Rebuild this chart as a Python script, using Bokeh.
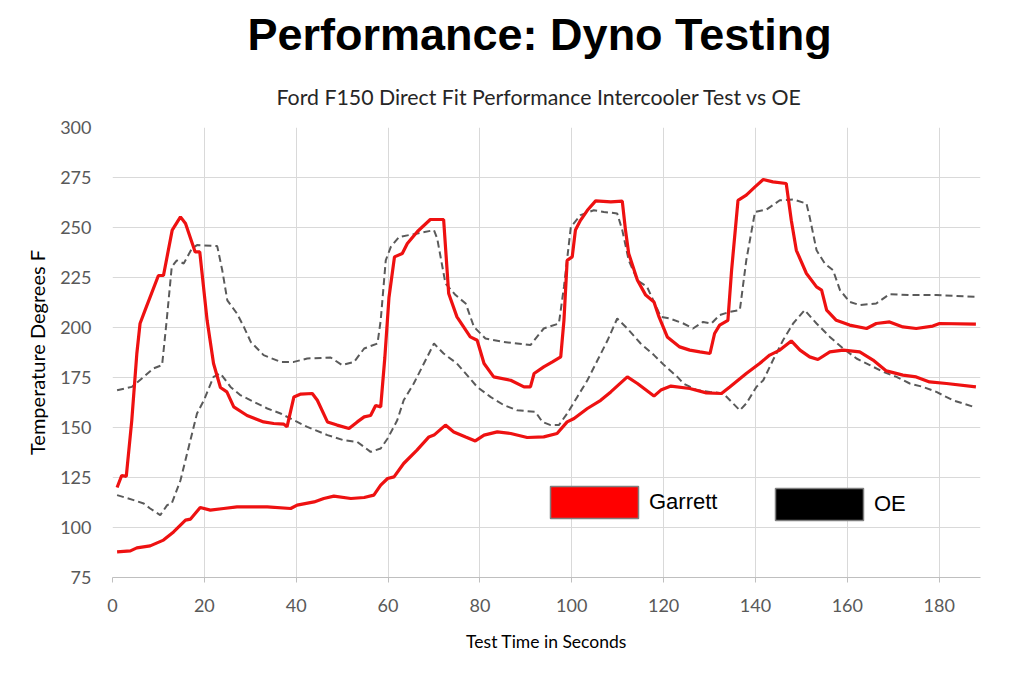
from bokeh.plotting import figure
from bokeh.models import Title, Legend, LegendItem, Range1d, FixedTicker
from bokeh.embed import file_html
from bokeh.resources import INLINE

# ---------------- data ----------------
garrett_hi_x = [1, 2, 3, 4.2, 5.3, 6, 7.1, 10, 11.1, 13, 14.8, 15.9, 18, 19, 20.6, 22, 23.5, 24.9, 26.4,
                29.3, 32.9, 35.1, 37.3, 38, 39.5, 41, 43.5, 44.6, 46.8, 48.9, 51.5, 53.3, 54.8, 56.2, 57.3,
                58.4, 59.3, 60.2, 61.4, 63.1, 64.2, 66.4, 69.2, 72.1, 73.2, 75, 77.9, 79.4, 80.9, 83, 86.7,
                89.6, 91, 91.8, 93.9, 95.8, 97.6, 98.3, 99, 100.1, 100.8, 101.9, 103.4, 105.2, 108.5, 111,
                111.7, 112.4, 114.3, 116.1, 117.9, 119, 120.8, 123.5, 125.7, 127.9, 130.1, 131.1, 132.2, 134,
                134.8, 136.2, 138, 139.9, 141.7, 143.8, 146.7, 147.8, 148.9, 151.1, 153.3, 154.4, 155.5,
                157.6, 160.5, 164.2, 166.3, 169.2, 172.1, 175, 178.6, 180.1, 188]
garrett_hi_y = [120, 126, 125.6, 153.6, 187, 202, 208.7, 226, 226, 248.7, 255.3, 252, 237.8, 237.8, 203.6,
                182, 170, 167.8, 160.3, 156, 152.8, 152, 151.7, 150.3, 165.3, 166.7, 167, 163.6, 152.8,
                151.2, 149.5, 152.8, 155.3, 156, 161, 160.3, 185, 215, 235.3, 237, 242, 248, 254, 254, 217,
                205.3, 195.3, 193.6, 182, 175.3, 173.6, 170.3, 170.3, 177, 180.3, 182.8, 185.3, 203.6,
                233.6, 235.3, 248.7, 253.6, 258.6, 263.3, 262.8, 263.2, 248.7, 237, 223.6, 216.2, 212.8,
                205.3, 195.3, 190.3, 188.7, 187.8, 187, 197, 201.2, 203.6, 228.6, 263.6, 266.2, 270.3, 274,
                272.8, 272, 253.6, 238.6, 227, 220.3, 218.7, 208.7, 203.6, 201.2, 199.5, 202, 202.8, 200.3,
                199.5, 200.7, 202, 201.7]

garrett_lo_x = [1, 3.9, 5.3, 8.2, 11.1, 13.3, 15.9, 17, 19.1, 21.3, 24.2, 27.1, 33.7, 38.8, 40.2, 43.9, 46,
                48.2, 51.9, 54.8, 56.9, 58.4, 59.9, 61.3, 63.4, 66.3, 68.9, 70, 72.5, 74.3, 76.9, 79, 80.9,
                83.8, 86.7, 90.3, 93.9, 96.8, 99, 100.5, 103.4, 106.3, 108.5, 112.1, 114.3, 117.9, 119.4,
                121.6, 125.7, 129.3, 132.6, 134.4, 138, 140.9, 143.1, 145.3, 147.8, 149.7, 151.8, 153.6,
                156.2, 159.1, 162.7, 165.6, 168.5, 172.1, 175, 177.9, 181.6, 188]
garrett_lo_y = [87.8, 88.3, 89.8, 90.8, 93.7, 97.8, 103.7, 104.2, 110, 108.7, 109.5, 110.3, 110.3, 109.5,
                111.2, 112.8, 114.5, 115.7, 114.5, 115, 116.2, 121.2, 124.5, 125.3, 132, 138.7, 145.3,
                146.2, 151.2, 147.8, 145.3, 143.3, 146.2, 147.8, 147, 145, 145.3, 147, 152.8, 154.5, 159.5,
                163.6, 167.8, 175.3, 172, 165.7, 168.7, 170.7, 169.5, 167.3, 167, 170.3, 177, 182, 186.2,
                188.7, 193.3, 188.7, 185.3, 184, 187.8, 188.7, 187.8, 183.7, 178.3, 176.2, 175.3, 172.8,
                172, 170.3]

oe_hi_x = [1, 4.2, 6.8, 8.9, 10.8, 11.8, 12.9, 14, 15.5, 17.3, 18.4, 22.8, 23.9, 25, 27.1, 28.6, 30.1,
           32.9, 36.6, 39.5, 42.4, 47.5, 50, 52.6, 54.8, 57.7, 58.4, 59.5, 60.6, 62.4, 66.4, 70, 70.7, 72.5,
           74.7, 76.9, 78.7, 81.2, 85.2, 88.1, 91, 93.9, 97.2, 98.3, 99.8, 101.9, 104.8, 107, 109.9, 111,
           112.4, 114.3, 116.4, 119.4, 121.3, 124.3, 126.4, 128.6, 130.4, 132.2, 134.4, 136.6, 138, 139.9,
           142.4, 145.3, 148.2, 151.1, 151.8, 153.3, 155.1, 156.9, 158.4, 160.5, 162.7, 166.3, 169.2,
           173.6, 179.4, 188]
oe_hi_y = [168.6, 170.3, 175.3, 179.5, 181.2, 203.6, 230.3, 233.6, 232, 239.5, 241.2, 240.7, 228.6, 213.6,
           207, 200.3, 192.8, 186.2, 182.8, 182.8, 184.5, 185, 181.2, 182.8, 189.5, 192, 203.6, 233.6,
           240.3, 245.3, 247, 248.7, 244.5, 222, 216.2, 212, 200.3, 194.5, 192.8, 192, 191.2, 199.5, 202,
           220.3, 250.3, 256.2, 258.6, 257.8, 257, 248.7, 233.6, 223.6, 220.3, 205.3, 204.5, 202, 199.5,
           202.8, 202, 206.2, 207.8, 208.7, 233.6, 257.8, 259, 263.6, 264, 262, 255.3, 238.6, 232, 228.6,
           218.7, 212.8, 211.2, 212, 216.7, 216.2, 216.2, 215.3]

oe_lo_x = [1, 4.6, 6.8, 8.2, 10.4, 11.9, 12.9, 14.8, 16.6, 18.4, 19.9, 22, 23.5, 25.7, 27.8, 30.8, 33.7,
           36.6, 39.5, 42.4, 46.8, 50.4, 53.3, 56.2, 58.4, 59.9, 62, 63.4, 65.6, 67.8, 70, 72.1, 75, 77.2,
           79.4, 82.3, 85.2, 88.1, 92.1, 93.6, 95.4, 97.2, 99, 101.2, 103.4, 105.6, 107.8, 109.9, 112.1,
           115, 117.9, 120.1, 123, 124.3, 127.2, 130.1, 133, 134.8, 136.6, 138, 140.2, 141.7, 143.8, 146,
           148.2, 150.7, 153.3, 156.2, 159.1, 162, 164.9, 167.8, 170.7, 173.6, 176.5, 179.4, 183, 188]
oe_lo_y = [116.2, 113.7, 112, 109.5, 106.2, 111.2, 112, 123.6, 140.3, 157, 163.6, 175.3, 177, 170.3, 166.2,
           162.8, 159.5, 157, 153.6, 150.3, 146.2, 143.6, 142.8, 137.8, 139.5, 144.5, 153.6, 163.6, 172,
           182, 192, 187, 182, 176.2, 170.3, 165.3, 161.2, 158.6, 157.8, 152.8, 151.2, 151.2, 157, 165.3,
           173.6, 183.6, 193.6, 204.5, 199.5, 192, 186.2, 181.2, 175.3, 172, 168.7, 167.8, 167, 162.8,
           158.6, 162, 170.3, 173.6, 183.6, 193.6, 202, 208.7, 202, 195.3, 189.5, 184.5, 181.2, 177.8,
           175.3, 172, 170.3, 167.8, 163.6, 160]

x_ticks = [0, 20, 40, 60, 80, 100, 120, 140, 160, 180]
y_ticks = [75, 100, 125, 150, 175, 200, 225, 250, 275, 300]
series_labels = ["Garrett", "OE"]

RED = "#ee1111"
GRAY = "#5a5a5a"
NAN = float("nan")

p = figure(width=1000, height=668, output_backend="svg", toolbar_location=None,
           x_range=Range1d(0, 189), y_range=Range1d(75, 300),
           min_border_left=112, min_border_right=20, min_border_top=127, min_border_bottom=91,
           title=None)
p.outline_line_color = None

# OE dashed series
p.line(oe_hi_x, oe_hi_y, line_color=GRAY, line_width=2, line_dash="7 4")
p.line(oe_lo_x, oe_lo_y, line_color=GRAY, line_width=2, line_dash="7 4")
# Garrett solid series
p.line(garrett_hi_x, garrett_hi_y, line_color=RED, line_width=3.2)
p.line(garrett_lo_x, garrett_lo_y, line_color=RED, line_width=3.2)

# Legend swatches (renderers with no visible geometry, used only for the legend)
r_g = p.quad(left=[NAN], right=[NAN], top=[NAN], bottom=[NAN], fill_color="#ff0000",
             line_color="#7f7f7f", line_width=1.5)
r_o = p.quad(left=[NAN], right=[NAN], top=[NAN], bottom=[NAN], fill_color="#000000",
             line_color="#7f7f7f", line_width=1.5)

common = dict(glyph_width=110, glyph_height=40, label_standoff=0, padding=0, margin=0, spacing=0,
              border_line_alpha=0, background_fill_alpha=0, label_text_font="Liberation Sans",
              label_text_font_size="22px", label_text_color="#000000", label_height=40)
leg_g = Legend(items=[LegendItem(label=series_labels[0], renderers=[r_g])], location=(427, 55), **common)
leg_o = Legend(items=[LegendItem(label=series_labels[1], renderers=[r_o])], location=(652, 53), **common)
p.add_layout(leg_g)
p.add_layout(leg_o)

# Titles
p.add_layout(Title(text="Ford F150 Direct Fit Performance Intercooler Test vs OE", align="left",
                   text_font="Lato", text_font_size="21.3px", text_font_style="normal",
                   text_color="#262626", offset=164, standoff=36), "above")
p.add_layout(Title(text="Performance: Dyno Testing", align="left",
                   text_font="Liberation Sans", text_font_size="45px", text_font_style="bold",
                   text_color="#000000", offset=135, standoff=7), "above")

# Axes
p.xaxis.ticker = FixedTicker(ticks=x_ticks)
p.yaxis.ticker = FixedTicker(ticks=y_ticks)
p.xaxis.axis_label = "Test Time in Seconds"
p.yaxis.axis_label = "Temperature Degrees F"
for ax in (p.xaxis, p.yaxis):
    ax.major_label_text_font = "Lato"
    ax.major_label_text_font_size = "18px"
    ax.major_label_text_color = "#595959"
    ax.axis_label_text_font = "Lato"
    ax.axis_label_text_font_style = "normal"
    ax.minor_tick_line_color = None
p.xaxis.axis_label_text_font_size = "17.5px"
p.yaxis.axis_label_text_font_size = "20px"
p.xaxis.axis_label_text_color = "#000000"
p.yaxis.axis_label_text_color = "#000000"
p.xaxis.axis_line_color = "#bfbfbf"
p.xaxis.major_tick_line_color = "#bfbfbf"
p.xaxis.major_tick_out = 5
p.xaxis.major_tick_in = 0
p.xaxis.major_label_standoff = 16
p.xaxis.axis_label_standoff = 16
p.yaxis.axis_line_color = None
p.yaxis.major_tick_line_color = None
p.yaxis.major_label_standoff = 15
p.yaxis.axis_label_standoff = 8

p.xgrid.grid_line_color = "#d9d9d9"
p.ygrid.grid_line_color = "#d9d9d9"
p.xgrid.ticker = FixedTicker(ticks=x_ticks)
p.ygrid.ticker = FixedTicker(ticks=y_ticks)

open("out.html", "w").write(file_html(p, INLINE))
